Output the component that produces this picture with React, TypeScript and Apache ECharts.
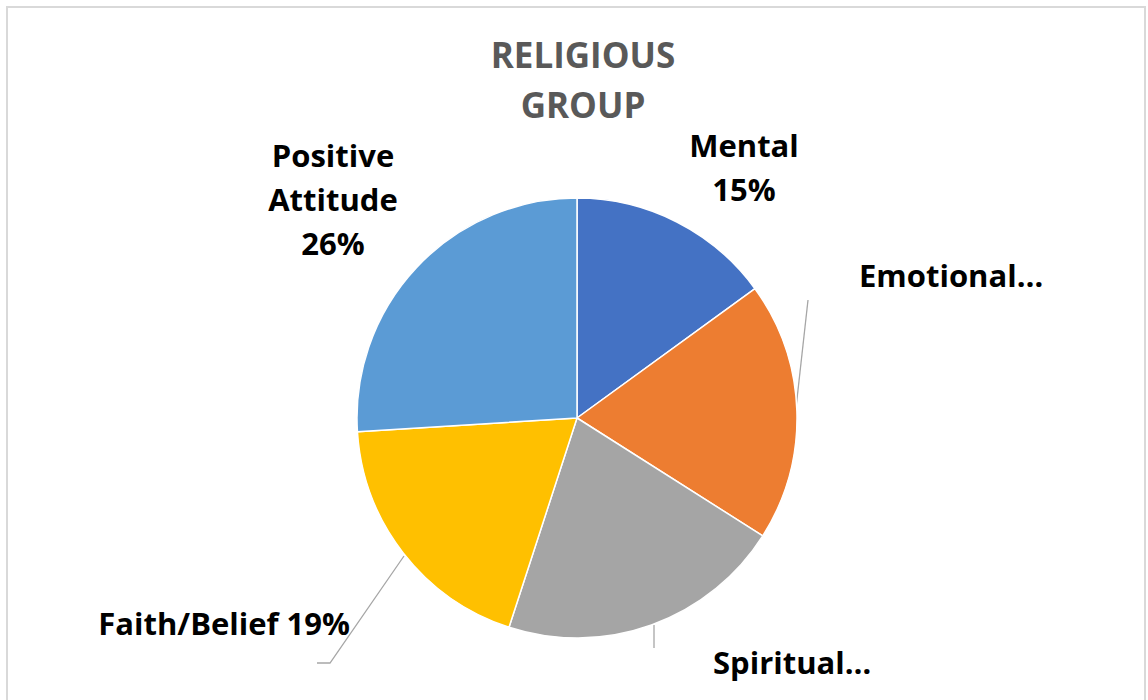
import React, { useEffect, useRef } from "react";
import * as echarts from "echarts";

const categories = ["Mental", "Emotional", "Spiritual", "Faith/Belief", "Positive Attitude"];
const values = [15, 19, 21, 19, 26];
const labelTexts = ["Mental\n15%", "Emotional…", "Spiritual…", "Faith/Belief 19%", "Positive\nAttitude\n26%"];
const colors = ["#4472C4", "#ED7D31", "#A5A5A5", "#FFC000", "#5B9BD5"];
const titleText = "RELIGIOUS\nGROUP";

const labelPos: any[] = [
  { x: 744, y: 167, align: "center" },
  { x: 859, y: 275, align: "left", line: [[796, 408], [808, 300]] },
  { x: 713, y: 662, align: "left", line: [[654, 625], [654, 648]] },
  { x: 350, y: 623, align: "right", line: [[404, 556], [330, 663], [317, 663]] },
  { x: 333, y: 199, align: "center" },
];

export default function App() {
  const ref = useRef<HTMLDivElement>(null);
  useEffect(() => {
    document.body.style.margin = "0";
    const chart = echarts.init(ref.current!, null, { renderer: "svg" });
    chart.setOption({
      animation: false,
      backgroundColor: "#ffffff",
      title: {
        text: titleText,
        left: 578,
        top: 24,
        textAlign: "center",
        textStyle: {
          fontFamily: "Open Sans",
          fontWeight: "bold",
          fontSize: 35,
          lineHeight: 50,
          color: "#595959",
        },
      },
      graphic: [
        {
          type: "rect",
          shape: { x: 7, y: 7, width: 1138, height: 800 },
          style: { fill: "none", stroke: "#d9d9d9", lineWidth: 2 },
          silent: true,
        },
      ],
      series: [
        {
          type: "pie",
          center: [577, 418],
          radius: 220,
          startAngle: 90,
          clockwise: true,
          itemStyle: { borderColor: "#ffffff", borderWidth: 1.5 },
          label: {
            show: true,
            formatter: (p: any) => labelTexts[p.dataIndex],
            fontFamily: "Open Sans",
            fontWeight: "bold",
            fontSize: 31,
            lineHeight: 44,
            color: "#000000",
          },
          labelLine: { show: true, lineStyle: { color: "#A6A6A6", width: 1.3 } },
          labelLayout: (params: any) => {
            const lp = labelPos[params.dataIndex];
            const r: any = { x: lp.x, y: lp.y, align: lp.align, verticalAlign: "middle" };
            if (lp.line) r.labelLinePoints = lp.line;
            return r;
          },
          data: categories.map((c, i) => ({
            name: c,
            value: values[i],
            itemStyle: { color: colors[i] },
            labelLine: { show: !!labelPos[i].line },
          })),
        },
      ],
    });
    return () => chart.dispose();
  }, []);
  return <div ref={ref} style={{ width: 1148, height: 700 }} />;
}
